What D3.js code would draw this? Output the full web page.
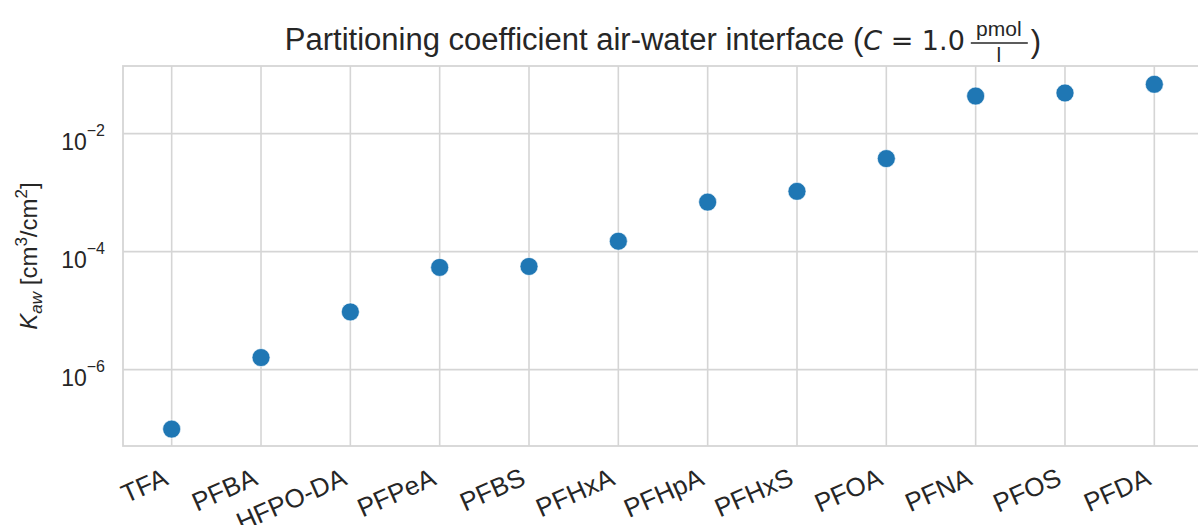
<!DOCTYPE html>
<html>
<head>
<meta charset="utf-8">
<script src="https://cdn.jsdelivr.net/npm/d3@7"></script>
<style>
  body { margin: 0; background: #fff; }
  text { font-family: "Liberation Sans", Arial, sans-serif; fill: #262626; }
</style>
</head>
<body>
<script>
// Width and height
var w = 1198;
var h = 525;
var margin = {top: 66, right: -5, bottom: 79, left: 123};

var compounds = ["TFA", "PFBA", "HFPO-DA", "PFPeA", "PFBS", "PFHxA",
                 "PFHpA", "PFHxS", "PFOA", "PFNA", "PFOS", "PFDA"];
var kaw = [9.8e-8, 1.6e-6, 9.5e-6, 5.4e-5, 5.6e-5, 1.5e-4,
           6.9e-4, 1.05e-3, 3.77e-3, 0.0433, 0.0488, 0.0685];
var yTicks = [1e-6, 1e-4, 1e-2];
var yTickExp = ["\u22126", "\u22124", "\u22122"];

var xScale = d3.scalePoint()
    .domain(compounds)
    .range([margin.left, w - margin.right])
    .padding(0.545);

var yScale = d3.scaleLog()
    .domain([Math.pow(10, -7.295), Math.pow(10, -0.854)])
    .range([h - margin.bottom, margin.top]);

var svg = d3.select("body")
    .append("svg")
    .attr("width", w)
    .attr("height", h);

// grid
svg.selectAll("line.vgrid")
    .data(compounds)
    .enter()
    .append("line")
    .attr("x1", d => xScale(d))
    .attr("x2", d => xScale(d))
    .attr("y1", margin.top)
    .attr("y2", h - margin.bottom)
    .attr("stroke", "#d5d5d5")
    .attr("stroke-width", 1.6);

svg.selectAll("line.hgrid")
    .data(yTicks)
    .enter()
    .append("line")
    .attr("x1", margin.left)
    .attr("x2", w)
    .attr("y1", d => yScale(d))
    .attr("y2", d => yScale(d))
    .attr("stroke", "#d5d5d5")
    .attr("stroke-width", 1.6);

// frame
svg.append("rect")
    .attr("x", margin.left)
    .attr("y", margin.top)
    .attr("width", w - margin.right - margin.left)
    .attr("height", h - margin.bottom - margin.top)
    .attr("fill", "none")
    .attr("stroke", "#d5d5d5")
    .attr("stroke-width", 1.8);

// y tick labels
var yLab = svg.selectAll("text.ytick")
    .data(yTicks)
    .enter()
    .append("text")
    .attr("text-anchor", "end")
    .attr("x", 105)
    .attr("y", d => yScale(d) + 16)
    .attr("font-family", "DejaVu Sans")
    .attr("font-size", "23px");
yLab.append("tspan").text("10");
yLab.append("tspan")
    .attr("dy", -14)
    .attr("font-size", "16px")
    .text((d, i) => yTickExp[i]);

// x tick labels
svg.selectAll("text.xtick")
    .data(compounds)
    .enter()
    .append("text")
    .attr("text-anchor", "end")
    .attr("transform", d => "translate(" + (xScale(d) - 2) + "," + 484 + ") rotate(-24)")
    .attr("font-size", "26px")
    .text(d => d);

// y axis label
var yl = svg.append("text")
    .attr("text-anchor", "middle")
    .attr("transform", "translate(37," + ((margin.top + h - margin.bottom) / 2) + ") rotate(-90)")
    .attr("font-size", "24px");
yl.append("tspan").attr("font-style", "italic").text("K");
yl.append("tspan").attr("font-style", "italic").attr("font-size", "17px").attr("dy", 5).text("aw");
yl.append("tspan").attr("dy", -5).text(" [cm");
yl.append("tspan").attr("font-size", "17px").attr("dy", -10).text("3");
yl.append("tspan").attr("dy", 10).text("/cm");
yl.append("tspan").attr("font-size", "17px").attr("dy", -10).text("2");
yl.append("tspan").attr("dy", 10).text("]");

// title: text, then fraction pmol/l, then closing bracket, centred over the axes
var title = svg.append("g");
var t1 = title.append("text")
    .attr("x", 0)
    .attr("y", 50)
    .attr("font-size", "31px");
t1.append("tspan").text("Partitioning coefficient air-water interface (");
t1.append("tspan").attr("font-family", "DejaVu Sans").attr("font-size", "27px").attr("font-style", "italic").text("C");
t1.append("tspan").attr("font-family", "DejaVu Sans").attr("font-size", "27px").text(" = 1.0 ");
var tw = t1.node().getComputedTextLength();
var fx = tw + 6;
title.append("line")
    .attr("x1", fx).attr("x2", fx + 57)
    .attr("y1", 43).attr("y2", 43)
    .attr("stroke", "#262626").attr("stroke-width", 1.4);
title.append("text")
    .attr("x", fx + 28).attr("y", 36)
    .attr("text-anchor", "middle")
    .attr("font-family", "DejaVu Sans")
    .attr("font-size", "21px")
    .text("pmol");
title.append("text")
    .attr("x", fx + 28).attr("y", 62)
    .attr("text-anchor", "middle")
    .attr("font-family", "DejaVu Sans")
    .attr("font-size", "21px")
    .text("l");
title.append("text")
    .attr("x", fx + 60).attr("y", 52)
    .attr("font-size", "31px")
    .text(")");
var tb = title.node().getBBox();
var cx = (margin.left + w - margin.right) / 2;
title.attr("transform", "translate(" + (cx - tb.width / 2 - tb.x) + ",0)");

// points
svg.selectAll("circle")
    .data(kaw)
    .enter()
    .append("circle")
    .attr("cx", (d, i) => xScale(compounds[i]))
    .attr("cy", d => yScale(d))
    .attr("r", 9)
    .attr("fill", "#1f77b4")
    .attr("stroke", "#ffffff")
    .attr("stroke-width", 0.6);
</script>
</body>
</html>
